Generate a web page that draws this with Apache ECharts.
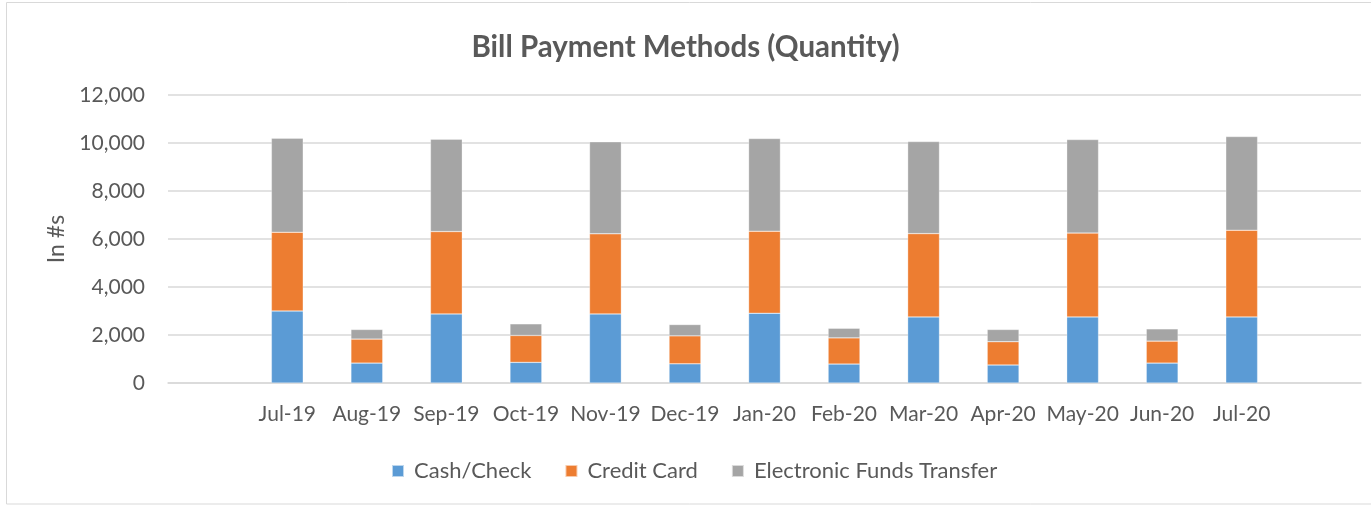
<!DOCTYPE html>
<html>
<head>
<meta charset="utf-8">
<script src="https://cdn.jsdelivr.net/npm/echarts@6/dist/echarts.min.js"></script>
<style>
html,body{margin:0;padding:0;background:#fff;}
#c{width:1371px;height:506px;}
</style>
</head>
<body>
<div id="c"></div>
<script>
var categories = ['', 'Jul-19', 'Aug-19', 'Sep-19', 'Oct-19', 'Nov-19', 'Dec-19', 'Jan-20', 'Feb-20', 'Mar-20', 'Apr-20', 'May-20', 'Jun-20', 'Jul-20', ''];
var cashCheck = [null, 3000, 830, 2880, 860, 2880, 800, 2905, 790, 2755, 750, 2755, 830, 2755, null];
var creditCard = [null, 3280, 1000, 3430, 1120, 3335, 1165, 3420, 1090, 3470, 970, 3490, 915, 3610, null];
var eft = [null, 3920, 400, 3850, 485, 3835, 470, 3860, 400, 3835, 510, 3900, 510, 3905, null];
var seriesNames = ['Cash/Check', 'Credit Card', 'Electronic Funds Transfer'];
var colors = ['#5B9BD5', '#ED7D31', '#A5A5A5'];

var FONT = 'Lato';
var TXT = '#595959';
var chart = echarts.init(document.getElementById('c'), null, {renderer: 'canvas'});
function bar(name, data, color) {
  return {
    name: name, type: 'bar', stack: 'total', data: data, barWidth: '40%',
    itemStyle: {color: color, borderColor: 'rgba(255,255,255,0.6)', borderWidth: 0.5},
    emphasis: {disabled: true}
  };
}
chart.setOption({
  animation: false,
  textStyle: {fontFamily: FONT, color: TXT},
  title: {
    text: 'Bill Payment Methods (Quantity)', left: 'center', top: 27,
    textStyle: {fontFamily: FONT, fontSize: 29.5, fontWeight: 'bold', color: TXT}
  },
  graphic: [{
    type: 'rect', silent: true, z: -1,
    shape: {x: 6.5, y: 2.5, width: 1400, height: 501.5},
    style: {fill: 'none', stroke: '#D9D9D9', lineWidth: 1}
  }],
  legend: {
    data: seriesNames, top: 455, left: 386,
    icon: 'rect', itemWidth: 12, itemHeight: 12, itemGap: 33,
    textStyle: {fontFamily: FONT, fontSize: 22, color: TXT, padding: [0, 0, 0, 5]}
  },
  grid: {left: 168, right: 10, top: 95, bottom: 123, containLabel: false},
  xAxis: {
    type: 'category', data: categories,
    axisLine: {lineStyle: {color: '#D9D9D9', width: 1.5}},
    axisTick: {show: false},
    axisLabel: {fontFamily: FONT, fontSize: 21, color: TXT, margin: 21, interval: 0}
  },
  yAxis: {
    type: 'value', min: 0, max: 12000, interval: 2000,
    name: 'In #s', nameLocation: 'middle', nameGap: 96, nameRotate: 90,
    nameTextStyle: {fontFamily: FONT, fontSize: 23, color: TXT},
    axisLine: {show: false}, axisTick: {show: false},
    axisLabel: {
      fontFamily: FONT, fontSize: 21, color: TXT, margin: 23,
      formatter: function (v) { return v.toLocaleString('en-US'); }
    },
    splitLine: {lineStyle: {color: '#D9D9D9', width: 1.5}}
  },
  series: [
    bar(seriesNames[0], cashCheck, colors[0]),
    bar(seriesNames[1], creditCard, colors[1]),
    bar(seriesNames[2], eft, colors[2])
  ]
});
</script>
</body>
</html>
